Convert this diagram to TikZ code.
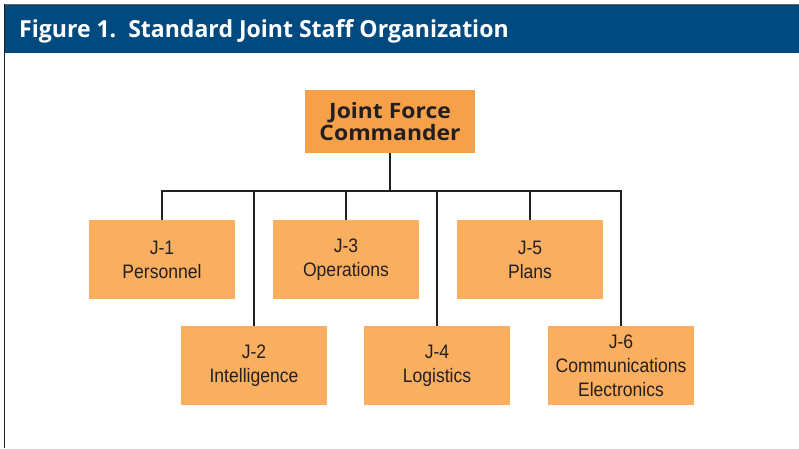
\documentclass[tikz,border=0pt]{standalone}
\usepackage{fontspec}
\setmainfont{Liberation Sans}[FakeStretch=0.9]
\newfontfamily\headfont{Open Sans}
\newfontfamily\bossfont{Open Sans}[FakeStretch=1.08]
\newfontfamily\titlefont{Open Sans}[FakeStretch=0.98]
\definecolor{hdrblue}{RGB}{0,74,127}
\definecolor{bosscol}{RGB}{247,160,74}
\definecolor{staffcol}{RGB}{250,175,96}
\definecolor{linecol}{RGB}{35,31,32}
\begin{document}
\begin{tikzpicture}[x=1pt,y=-1pt,
  staffbox/.style={fill=staffcol, inner sep=0pt, minimum width=146pt, minimum height=79pt,
    align=center, text=linecol, font=\fontsize{19.5}{24}\selectfont},
  bossbox/.style={fill=bosscol, inner sep=0pt, minimum width=170pt, minimum height=63pt,
    align=center, text=linecol, font=\bossfont\bfseries\fontsize{21.2}{22.5}\selectfont},
  orgline/.style={draw=linecol, line width=2.3pt, line join=miter}]
\useasboundingbox (0,0) rectangle (799,448);
\fill[white] (0,0) rectangle (799,448);
% frame and header
\fill[hdrblue] (4,4) rectangle (799,53);
\draw[draw=black!60, line width=1.2pt] (4,4.5) -- (799,4.5);
\draw[draw=linecol, line width=1.6pt] (4.5,4) -- (4.5,448);
\node[anchor=base west, inner sep=0pt, text=white, font=\titlefont\bfseries\fontsize{23.5}{28}\selectfont]
  (title) at (19,37) {Figure 1.\ \ Standard Joint Staff Organization};
% boxes
\node[bossbox] (jfc) at (390,121.5) {Joint Force\\Commander};
\node[staffbox] (j1) at (162,259.5) {J-1\\Personnel};
\node[staffbox] (j3) at (346,259.5) {J-3\\Operations};
\node[staffbox] (j5) at (530,259.5) {J-5\\Plans};
\node[staffbox] (j2) at (254,365.5) {J-2\\Intelligence};
\node[staffbox] (j4) at (437,365.5) {J-4\\Logistics};
\node[staffbox] (j6) at (621,365.5) {J-6\\Communications\\Electronics};
% connectors
\coordinate (bus) at (390,191);
\draw[orgline] (jfc.south) -- (bus);
\draw[orgline] (j1.north) -- (j1.north |- bus) -- (j6.north |- bus) -- (j6.north);
\draw[orgline] (j2.north) -- (j2.north |- bus);
\draw[orgline] (j3.north) -- (j3.north |- bus);
\draw[orgline] (j4.north) -- (j4.north |- bus);
\draw[orgline] (j5.north) -- (j5.north |- bus);
\end{tikzpicture}
\end{document}
